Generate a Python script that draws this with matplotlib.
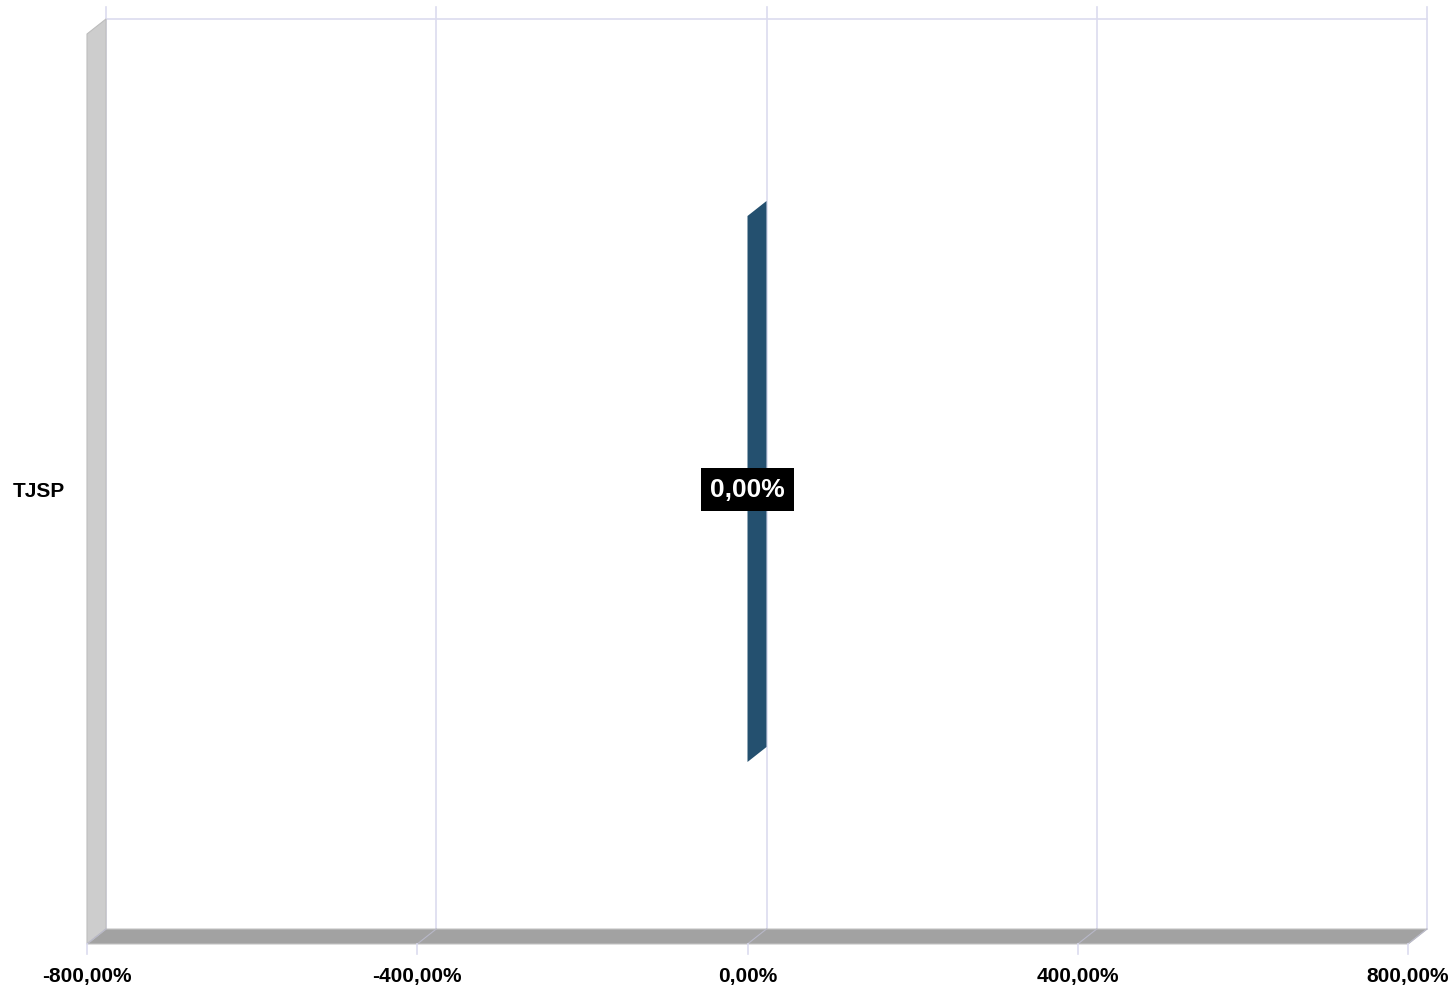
import matplotlib
matplotlib.use("Agg")
import matplotlib.pyplot as plt
import matplotlib.transforms as mtransforms
from matplotlib.patches import Polygon

categories = ["TJSP"]
values = [0.0]
value_labels = ["0,00%"]
x_ticks = [-800, -400, 0, 400, 800]
x_tick_labels = ["-800,00%", "-400,00%", "0,00%", "400,00%", "800,00%"]

BAR_COLOR = "#24506f"
GRID_COLOR = "#dcdcef"
WALL_COLOR = "#cdcdcd"
FLOOR_COLOR = "#a2a2a2"
FONT = "Liberation Sans"

DEPTH_PX = (-19, -15)   # back -> front shift of the fake 3D box, in pixels
BAR_HEIGHT = 0.6

fig = plt.figure(figsize=(14.54, 9.87), dpi=100)
ax = fig.add_axes([106 / 1454, 57 / 987, 1321 / 1454, 910 / 987])
xmin, xmax = x_ticks[0], x_ticks[-1]
ymin, ymax = -0.5, len(categories) - 0.5
ax.set_xlim(xmin, xmax)
ax.set_ylim(ymin, ymax)
for s in ax.spines.values():
    s.set_visible(False)

# convert the pixel depth into data units
bb = ax.get_window_extent()
ddx = DEPTH_PX[0] * (xmax - xmin) / bb.width
ddy = DEPTH_PX[1] * (ymax - ymin) / bb.height
px_y = (ymax - ymin) / bb.height

# ── walls ────────────────────────────────────────────────────────────────
left_wall = Polygon([(xmin, ymin), (xmin, ymax), (xmin + ddx, ymax + ddy), (xmin + ddx, ymin + ddy)],
                    closed=True, facecolor=WALL_COLOR, edgecolor="#bdbdbd", lw=0.8,
                    clip_on=False, zorder=2)
floor = Polygon([(xmin, ymin), (xmax, ymin), (xmax + ddx, ymin + ddy), (xmin + ddx, ymin + ddy)],
                closed=True, facecolor=FLOOR_COLOR, edgecolor="#c4c4c4", lw=0.8,
                clip_on=False, zorder=2)
ax.add_patch(left_wall)
ax.add_patch(floor)

# ── gridlines (back wall, floor, front ticks) ────────────────────────────
for t in x_ticks:
    ax.plot([t, t], [ymin, ymax + 12 * px_y], color=GRID_COLOR, lw=1.2, clip_on=False, zorder=1)
    ax.plot([t, t + ddx], [ymin, ymin + ddy], color="#b8b8c8", lw=0.8, clip_on=False, zorder=3)
    ax.plot([t + ddx, t + ddx], [ymin + ddy, ymin + ddy - 10 * px_y], color=GRID_COLOR, lw=1.2,
            clip_on=False, zorder=3)
ax.plot([xmin, xmax], [ymax, ymax], color=GRID_COLOR, lw=1.2, clip_on=False, zorder=1)

# ── bars ─────────────────────────────────────────────────────────────────
for i, v in enumerate(values):
    y0, y1 = i - BAR_HEIGHT / 2, i + BAR_HEIGHT / 2
    # front face
    ax.barh(i + ddy, v, left=ddx, height=BAR_HEIGHT, color=BAR_COLOR, lw=0, zorder=5)
    # end face at the value
    ax.add_patch(Polygon([(v, y0), (v, y1), (v + ddx, y1 + ddy), (v + ddx, y0 + ddy)],
                         closed=True, facecolor=BAR_COLOR, edgecolor="none", zorder=5))
    # top face
    ax.add_patch(Polygon([(0, y1), (v, y1), (v + ddx, y1 + ddy), (ddx, y1 + ddy)],
                         closed=True, facecolor=BAR_COLOR, edgecolor="none", zorder=5))
    ax.text(v + ddx, i + ddy, value_labels[i], ha="center", va="center", color="white",
            fontsize=19, fontweight="bold", family=FONT, zorder=6,
            bbox=dict(boxstyle="square,pad=0.36", facecolor="black", edgecolor="none"))

# ── axis labels at the front edge ────────────────────────────────────────
ax.set_xticks([])
label_trans = mtransforms.offset_copy(ax.get_xaxis_transform(), fig=fig, x=0, y=-37, units="dots")
for t, lab in zip(x_ticks, x_tick_labels):
    ax.text(t + ddx, 0, lab, transform=label_trans, ha="center", va="top",
            fontsize=15, fontweight="bold", family=FONT, clip_on=False)

ax.set_yticks([i + ddy for i in range(len(categories))], categories)
ax.set_ylim(ymin, ymax)
ax.tick_params(axis="y", length=0, pad=29.5)
for lab in ax.get_yticklabels():
    lab.set_fontfamily(FONT)
    lab.set_fontweight("bold")
    lab.set_fontsize(15)

fig.savefig("out.png", dpi=100)
